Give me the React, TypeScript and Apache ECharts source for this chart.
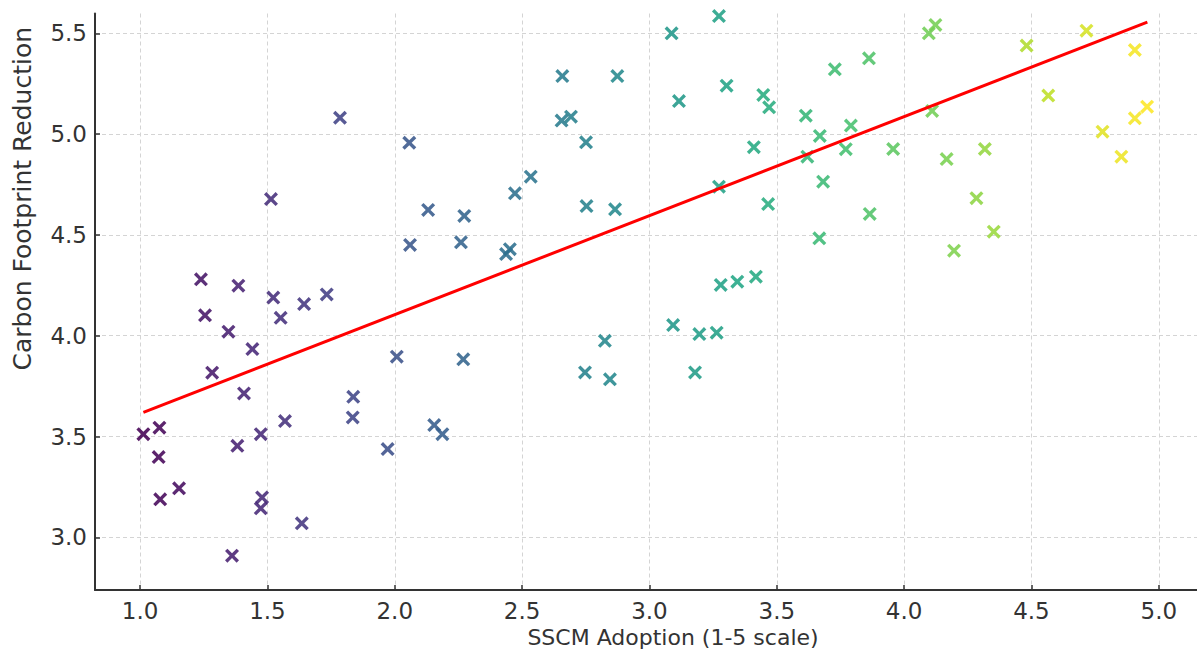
import { useEffect, useRef } from "react";
import * as echarts from "echarts";

// SSCM adoption (x) and carbon footprint reduction (y) for each observation
const adoption = [
  1.013, 1.076, 1.073, 1.079, 1.153, 1.283, 1.347, 1.441, 1.408, 1.382,
  1.474, 1.479, 1.474, 1.361, 1.635, 1.569, 1.835, 1.837, 1.972, 2.008,
  1.785, 1.514, 1.239, 1.386, 1.523, 1.255, 1.552, 1.644, 1.733,
  2.057, 2.131, 2.273, 2.06, 2.26, 2.437, 2.452, 2.472, 2.534, 2.658,
  2.655, 2.692, 2.751, 2.753, 2.865, 2.874, 3.087, 3.273, 3.116, 3.303,
  3.447, 3.47, 3.41, 3.273, 3.466, 3.28, 3.345, 3.418, 3.093,
  2.269, 2.155, 2.187, 2.747, 2.825, 2.845, 3.179, 3.196, 3.264,
  3.614, 3.728, 3.862, 4.097, 4.123, 3.669, 3.791, 3.771, 3.62, 3.957,
  3.682, 3.865, 3.667, 4.11, 4.167, 4.317, 4.284, 4.352, 4.196, 4.481,
  4.566, 4.716, 4.906, 4.954, 4.906, 4.779, 4.853,
];
const reduction = [
  3.512, 3.544, 3.398, 3.189, 3.243, 3.817, 4.02, 3.934, 3.714, 3.454,
  3.512, 3.198, 3.144, 2.909, 3.07, 3.577, 3.595, 3.697, 3.438, 3.896,
  5.081, 4.678, 4.28, 4.248, 4.189, 4.101, 4.089, 4.157, 4.205,
  4.957, 4.624, 4.594, 4.45, 4.463, 4.405, 4.429, 4.706, 4.789, 5.288,
  5.067, 5.086, 4.959, 4.643, 4.627, 5.288, 5.5, 5.585, 5.164, 5.24,
  5.194, 5.133, 4.935, 4.739, 4.653, 4.252, 4.268, 4.293, 4.053,
  3.883, 3.557, 3.512, 3.818, 3.975, 3.784, 3.818, 4.008, 4.015,
  5.091, 5.321, 5.376, 5.5, 5.541, 4.991, 5.042, 4.925, 4.888, 4.926,
  4.764, 4.604, 4.483, 5.115, 4.876, 4.926, 4.682, 4.516, 4.422, 5.439,
  5.191, 5.513, 5.417, 5.136, 5.078, 5.012, 4.888,
];

// regression line end points
const trendX = [1.013, 4.955];
const trendY = [3.62, 5.555];

const viridis = [
  "#440154", "#482475", "#414487", "#355f8d", "#2a788e", "#21918c",
  "#22a884", "#44bf70", "#7ad151", "#bddf26", "#fde725",
];

const FONT = "DejaVu Sans";
const X_MARK =
  "path://M0,1.7L1.7,0L5,3.3L8.3,0L10,1.7L6.7,5L10,8.3L8.3,10L5,6.7L1.7,10L0,8.3L3.3,5Z";

export default function App() {
  const ref = useRef<HTMLDivElement>(null);
  useEffect(() => {
    const chart = echarts.init(ref.current, null, { renderer: "svg" });
    const points = adoption.map((x, i) => [x, reduction[i]]);
    const trend = trendX.map((x, i) => [x, trendY[i]]);
    const axisCommon = {
      type: "value",
      minInterval: 0.5,
      maxInterval: 0.5,
      axisLine: { show: true, onZero: false, lineStyle: { color: "#333", width: 2 } },
      axisTick: { show: true, inside: true, length: 5, lineStyle: { color: "#333", width: 1.5 } },
      splitLine: {
        show: true,
        showMinLine: false,
        showMaxLine: false,
        lineStyle: { color: "#d4d4d4", width: 1, type: [4, 3] },
      },
    };
    chart.setOption({
      animation: false,
      backgroundColor: "#ffffff",
      grid: { left: 95, right: 0, top: 13.5, bottom: 67, containLabel: false },
      visualMap: {
        show: false,
        type: "continuous",
        dimension: 0,
        seriesIndex: 0,
        min: Math.min(...adoption),
        max: Math.max(...adoption),
        inRange: { color: viridis },
      },
      xAxis: {
        ...axisCommon,
        min: 0.823,
        max: 5.15,
        axisLabel: {
          fontSize: 23,
          color: "#333",
          fontFamily: FONT,
          margin: 9,
          showMinLabel: false,
          showMaxLabel: false,
          formatter: (v: number) => v.toFixed(1),
        },
        name: "SSCM Adoption (1-5 scale)",
        nameLocation: "middle",
        nameGap: 35,
        nameTextStyle: { fontSize: 22, color: "#333", fontFamily: FONT, padding: [0, 0, 0, 54] },
      },
      yAxis: {
        ...axisCommon,
        min: 2.739,
        max: 5.598,
        axisLabel: {
          fontSize: 23,
          color: "#333",
          fontFamily: FONT,
          margin: 8,
          showMinLabel: false,
          showMaxLabel: false,
          formatter: (v: number) => v.toFixed(1),
        },
        name: "Carbon Footprint Reduction",
        nameLocation: "middle",
        nameGap: 60,
        nameTextStyle: { fontSize: 25, color: "#333", fontFamily: FONT, padding: [0, 0, 0, 206] },
      },
      series: [
        {
          type: "scatter",
          data: points,
          symbol: X_MARK,
          symbolSize: 14,
          itemStyle: { opacity: 0.88 },
          z: 2,
        },
        {
          type: "line",
          data: trend,
          symbol: "none",
          lineStyle: { color: "#ff0000", width: 3 },
          z: 3,
        },
      ],
    });
    return () => chart.dispose();
  }, []);
  return (
    <div
      ref={ref}
      style={{ position: "fixed", left: 0, top: 0, width: 1197, height: 657 }}
    />
  );
}
